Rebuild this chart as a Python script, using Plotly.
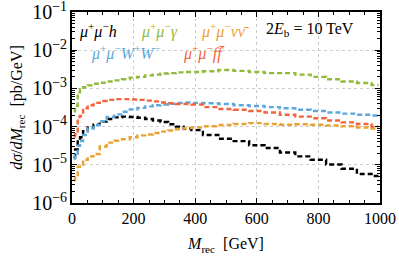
import plotly.graph_objects as go

m_rec = [5, 15, 22, 30, 42, 60, 80, 100, 125, 150, 175, 200, 225, 250, 275, 300,
         325, 350, 375, 400, 450, 500, 550, 600, 650, 700, 750, 800, 850, 900, 950, 995]

mumu_h = [1.58e-5, 2.51e-5, 4.47e-5, 5.25e-5, 7.6e-5, 9.5e-5, 1.12e-4, 1.35e-4, 1.58e-4, 1.74e-4,
          1.82e-4, 1.78e-4, 1.70e-4, 1.58e-4, 1.45e-4, 1.32e-4, 1.15e-4, 1.0e-4, 8.9e-5, 8.1e-5,
          6.0e-5, 4.8e-5, 4.17e-5, 3.24e-5, 2.75e-5, 2.09e-5, 1.66e-5, 1.35e-5, 1.02e-5, 7.9e-6,
          5.75e-6, 5.1e-6]
mumu_gamma = [2.5e-4, 3.5e-4, 7.9e-4, 9.5e-4, 1.07e-3, 1.2e-3, 1.32e-3, 1.41e-3, 1.51e-3, 1.62e-3,
              1.74e-3, 1.91e-3, 2.0e-3, 2.19e-3, 2.29e-3, 2.45e-3, 2.51e-3, 2.63e-3, 2.69e-3, 2.69e-3,
              2.82e-3, 3.02e-3, 2.88e-3, 2.69e-3, 2.51e-3, 2.51e-3, 2.29e-3, 2.0e-3, 1.74e-3, 1.51e-3,
              1.38e-3, 1.23e-3]
mumu_nunu = [4.0e-6, 5.0e-6, 8.9e-6, 1.0e-5, 1.35e-5, 1.66e-5, 1.91e-5, 3.02e-5, 3.8e-5, 4.27e-5,
             4.68e-5, 5.25e-5, 5.9e-5, 6.2e-5, 6.8e-5, 7.4e-5, 7.9e-5, 8.5e-5, 9.1e-5, 9.5e-5,
             1.02e-4, 1.10e-4, 1.17e-4, 1.23e-4, 1.17e-4, 1.12e-4, 1.15e-4, 1.12e-4, 1.07e-4, 1.02e-4,
             9.5e-5, 8.9e-5]
mumu_ww = [1.45e-5, 1.78e-5, 3.16e-5, 4.17e-5, 6.03e-5, 8.9e-5, 1.10e-4, 1.38e-4, 1.78e-4, 2.09e-4,
           2.45e-4, 2.82e-4, 3.09e-4, 3.39e-4, 3.63e-4, 3.80e-4, 3.98e-4, 4.17e-4, 4.27e-4, 4.17e-4,
           4.07e-4, 3.89e-4, 3.63e-4, 3.47e-4, 3.24e-4, 3.02e-4, 2.75e-4, 2.57e-4, 2.34e-4, 2.19e-4,
           2.04e-4, 1.95e-4]
mumu_ff = [5.6e-5, 6.3e-5, 1.78e-4, 1.91e-4, 3.02e-4, 3.63e-4, 4.17e-4, 4.68e-4, 5.0e-4, 5.25e-4,
           5.25e-4, 5.13e-4, 5.0e-4, 4.79e-4, 4.57e-4, 4.27e-4, 4.07e-4, 3.89e-4, 3.89e-4, 3.80e-4,
           3.24e-4, 2.88e-4, 2.75e-4, 2.57e-4, 2.34e-4, 2.04e-4, 1.82e-4, 1.66e-4, 1.45e-4, 1.29e-4,
           1.17e-4, 1.0e-4]

series = [
    ("μ⁺μ⁻h", mumu_h, "#000000"),
    ("μ⁺μ⁻γ", mumu_gamma, "#8fba3a"),
    ("μ⁺μ⁻νν̄", mumu_nunu, "#e9a234"),
    ("μ⁺μ⁻W⁺W⁻", mumu_ww, "#5ea8da"),
    ("μ⁺μ⁻ff̄", mumu_ff, "#f2643c"),
]

labels = [
    ("<i>μ</i><sup>+</sup><i>μ</i><sup>−</sup><i>h</i>", "#000000", 77, 31),
    ("<i>μ</i><sup>+</sup><i>μ</i><sup>−</sup><i>γ</i>", "#8fba3a", 139, 31),
    ("<i>μ</i><sup>+</sup><i>μ</i><sup>−</sup><i>νν̄</i>", "#e9a234", 199, 31),
    ("2<i>E</i><sub>b</sub> = 10 TeV", "#000000", 264, 29),
    ("<i>μ</i><sup>+</sup><i>μ</i><sup>−</sup><i>W</i><sup>+</sup><i>W</i><sup>−</sup>", "#5ea8da", 89, 52),
    ("<i>μ</i><sup>+</sup><i>μ</i><sup>−</sup><i>ff̄</i>", "#f2643c", 181, 52),
]

FONT = "Liberation Serif"

fig = go.Figure()
for name, vals, col in series:
    fig.add_trace(go.Scatter(x=m_rec, y=vals, mode="lines", name=name,
                             line=dict(color=col, width=2.4, dash="5px,3px", shape="hvh")))

W, H = 399, 263
L, R, T, B = 72, 19, 12, 60
for txt, col, px, py in labels:
    fig.add_annotation(text=txt, xref="paper", yref="paper",
                       x=(px - L) / (W - L - R), y=1 - (py - T) / (H - T - B),
                       xanchor="left", yanchor="middle", showarrow=False,
                       font=dict(color=col, size=16, family=FONT))

axis_common = dict(showline=True, linecolor="black", linewidth=1.5, mirror="allticks",
                   ticks="inside", ticklen=5, tickcolor="black", tickwidth=1,
                   showgrid=True, gridcolor="#cccccc", griddash="dot", gridwidth=1,
                   zeroline=False, automargin=False, ticklabeloverflow="allow",
                   tickfont=dict(size=16, family=FONT, color="black"))

fig.update_xaxes(range=[0, 1000], dtick=200, tick0=0,
                 title=dict(text="<i>M</i><sub>rec</sub>  [GeV]", font=dict(size=16, family=FONT, color="black"), standoff=12),
                 minor=dict(ticks="inside", ticklen=3, dtick=50, tickcolor="black", showgrid=False),
                 **axis_common)
fig.update_yaxes(type="log", range=[-6, -1], dtick=1, exponentformat="power",
                 title=dict(text="<i>dσ</i>/<i>dM</i><sub>rec</sub>  [pb/GeV]", font=dict(size=16, family=FONT, color="black"), standoff=6),
                 minor=dict(ticks="inside", ticklen=3, tickcolor="black", showgrid=False),
                 **axis_common)

fig.update_layout(width=W, height=H, margin=dict(l=L, r=R, t=T, b=B),
                  plot_bgcolor="white", paper_bgcolor="white", showlegend=False,
                  font=dict(family=FONT, color="black"))

fig.write_html("out.html", config={"displayModeBar": False},
               post_script="document.body.style.margin='0';document.body.style.padding='0';document.body.style.overflow='hidden';")
